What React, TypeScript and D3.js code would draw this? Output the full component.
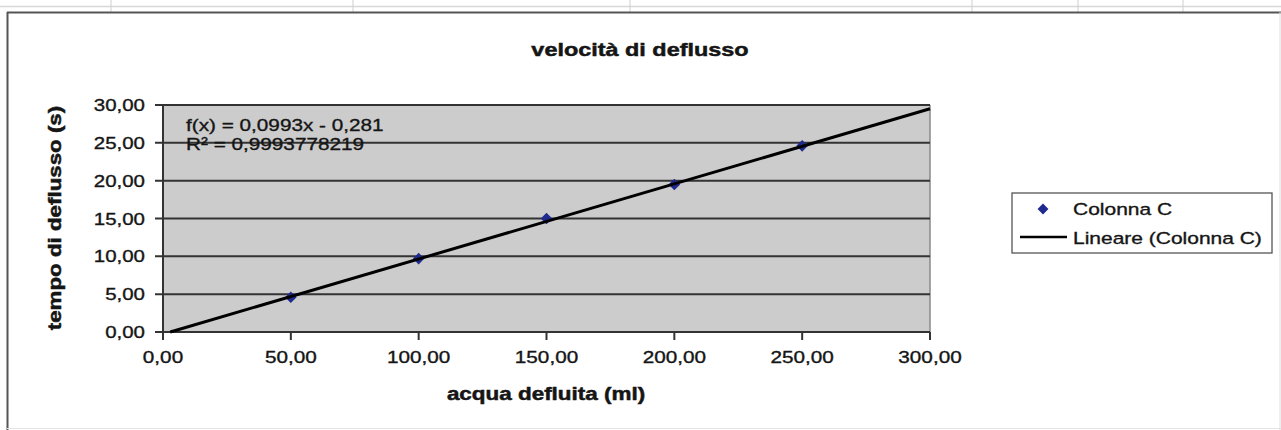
import React from "react";
import * as d3 from "d3";

const title = "velocità di deflusso";
const xTitle = "acqua defluita (ml)";
const yTitle = "tempo di deflusso (s)";
const seriesName = "Colonna C";
const trendName = "Lineare (Colonna C)";
const xValues = [50, 100, 150, 200, 250];
const yValues = [4.6, 9.7, 15.0, 19.5, 24.6];
const xTicks = [0, 50, 100, 150, 200, 250, 300];
const yTicks = [0, 5, 10, 15, 20, 25, 30];
const trendSlope = 0.0993;
const trendIntercept = -0.281;
const trendLabel = "f(x) = 0,0993x - 0,281";
const r2Label = "R² = 0,9993778219";
const sheetColumns = [111, 353, 630, 972, 1078, 1183];

const W = 1281;
const H = 430;
const SX = 1.22;
const FONT = "'Liberation Sans', Arial, Helvetica, sans-serif";

const locale = d3.formatLocale({ decimal: ",", thousands: ".", grouping: [3], currency: ["", "€"] });
const fmt = locale.format(".2f");

function T(props: {
  x: number; y: number; size: number; anchor?: string; bold?: boolean; rotate?: number; children: React.ReactNode; fill?: string;
}) {
  const { x, y, size, anchor = "start", bold = false, rotate = 0, children, fill = "#151515" } = props;
  return (
    <text
      transform={`translate(${x},${y}) rotate(${rotate}) scale(${SX},1)`}
      fontSize={size}
      fontFamily={FONT}
      fontWeight={bold ? "bold" : "normal"}
      textAnchor={anchor}
      fill={fill}
      stroke={fill}
      strokeWidth={bold ? 0.5 : 0.35}
    >
      {children}
    </text>
  );
}

export default function App() {
  const plot = { left: 163, right: 930, top: 105, bottom: 332 };
  const x = d3.scaleLinear().domain([0, 300]).range([plot.left, plot.right]);
  const y = d3.scaleLinear().domain([0, 30]).range([plot.bottom, plot.top]);

  const x0 = Math.max(0, -trendIntercept / trendSlope);
  const trendLine = d3.line<number>()
    .x((d) => x(d))
    .y((d) => y(trendSlope * d + trendIntercept));

  const diamond = d3.symbol().type(d3.symbolDiamond2).size(85)();
  const legendDiamond = d3.symbol().type(d3.symbolDiamond2).size(75)();

  return (
    <svg width={W} height={H} style={{ position: "absolute", left: 0, top: 0, background: "#fff" }}>
      {/* spreadsheet background */}
      <line x1={0} x2={W} y1={6.5} y2={6.5} stroke="#d8d8d8" strokeWidth={1.5} />
      {sheetColumns.map((c) => (
        <line key={c} x1={c} x2={c} y1={0} y2={12} stroke="#cfcfcf" strokeWidth={1} />
      ))}
      {/* chart frame */}
      <line x1={7} x2={W} y1={12.5} y2={12.5} stroke="#555" strokeWidth={2} />
      <line x1={7.5} x2={7.5} y1={12} y2={H} stroke="#555" strokeWidth={2} />
      <line x1={W - 1} x2={W - 1} y1={12} y2={H} stroke="#ddd" strokeWidth={1} />
      <line x1={7} x2={W} y1={H - 1.5} y2={H - 1.5} stroke="#e4e4e4" strokeWidth={1} />

      <T x={640} y={56} size={19.2} anchor="middle" bold>{title}</T>

      {/* plot area */}
      <rect x={plot.left} y={plot.top} width={plot.right - plot.left} height={plot.bottom - plot.top} fill="#cccccc" />
      <line x1={plot.right} x2={plot.right} y1={plot.top} y2={plot.bottom} stroke="#8a8a8a" strokeWidth={1.5} />
      {yTicks.map((t) => (
        <g key={t}>
          <line x1={plot.left - 8} x2={plot.right} y1={y(t)} y2={y(t)} stroke="#333" strokeWidth={2} />
          <T x={plot.left - 18} y={y(t) + 6} size={16.8} anchor="end">{fmt(t)}</T>
        </g>
      ))}
      <line x1={plot.left} x2={plot.left} y1={plot.top} y2={plot.bottom} stroke="#333" strokeWidth={2} />
      {xTicks.map((t) => (
        <g key={t}>
          <line x1={x(t)} x2={x(t)} y1={plot.bottom} y2={plot.bottom + 8} stroke="#333" strokeWidth={2} />
          <T x={x(t)} y={363} size={17} anchor="middle">{fmt(t)}</T>
        </g>
      ))}

      {/* data points */}
      {xValues.map((v, i) => (
        <path key={v} d={diamond ?? ""} transform={`translate(${x(v)},${y(yValues[i])})`} fill="#1f2a8f" />
      ))}

      {/* trend line */}
      <path d={trendLine([x0, 300]) ?? ""} fill="none" stroke="#000" strokeWidth={3} />

      <T x={186} y={131} size={17}>{trendLabel}</T>
      <T x={186} y={150} size={17}>{r2Label}</T>

      <T x={546} y={400} size={18.4} anchor="middle" bold>{xTitle}</T>
      <T x={61} y={218} size={18.3} anchor="middle" bold rotate={-90}>{yTitle}</T>

      {/* legend */}
      <rect x={1012} y={193} width={260} height={60} fill="#fff" stroke="#555" strokeWidth={1.3} />
      <path d={legendDiamond ?? ""} transform="translate(1043,209)" fill="#1f2a8f" />
      <T x={1073} y={215} size={17.2}>{seriesName}</T>
      <line x1={1020} x2={1067} y1={237} y2={237} stroke="#000" strokeWidth={2.4} />
      <T x={1073} y={244} size={17.2}>{trendName}</T>
    </svg>
  );
}
